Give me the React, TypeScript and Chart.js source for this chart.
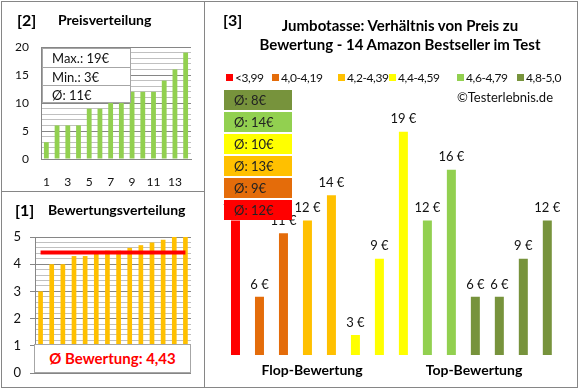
import React, { useEffect, useRef } from "react";
import { Chart, registerables } from "chart.js";

Chart.register(...registerables);

// ---------- data ----------
const rankLabels = ["1", "2", "3", "4", "5", "6", "7", "8", "9", "10", "11", "12", "13", "14"];
const sortedPrices = [3, 6, 6, 6, 9, 9, 10, 10, 12, 12, 12, 14, 16, 19];
const sortedRatings = [3.0, 4.0, 4.0, 4.3, 4.3, 4.4, 4.5, 4.5, 4.6, 4.7, 4.8, 4.9, 5.0, 5.0];
const avgRating = 4.43;
const priceStats = ["Max.: 19€", "Min.: 3€", "Ø: 11€"];

const productPrices = [12, 6, 11, 12, 14, 3, 9, 19, 12, 16, 6, 6, 9, 12];
const productGroup = [0, 1, 1, 2, 2, 3, 3, 3, 4, 4, 5, 5, 5, 5];
const groupLabels = ["<3,99", "4,0-4,19", "4,2-4,39", "4,4-4,59", "4,6-4,79", "4,8-5,0"];
const groupColors = ["#FF0000", "#E46C0A", "#FFC000", "#FFFF00", "#92D050", "#77933C"];
const groupAvgPrices = [12, 9, 13, 10, 14, 8];
const sectionLabels = ["Flop-Bewertung", "Top-Bewertung"];

// ---------- layout ----------
const FONT = "Lato, 'Open Sans', sans-serif";
const GRID_MAJOR = "#868686";
const GRID_MINOR = "#C0C0C0";
const TXT = "#111";
const legendLeft = [226, 272, 338, 389, 457, 517];
const boxTops = [90, 112, 134, 156, 178, 200];

const isInt = (v: number) => Math.abs(v - Math.round(v)) < 1e-6;

export default function App() {
  const c1 = useRef<HTMLCanvasElement>(null);
  const c2 = useRef<HTMLCanvasElement>(null);
  const c3 = useRef<HTMLCanvasElement>(null);

  useEffect(() => {
    const charts: Chart[] = [];

    // [2] Preisverteilung
    charts.push(
      new Chart(c1.current!, {
        type: "bar",
        data: {
          labels: rankLabels,
          datasets: [
            {
              data: sortedPrices,
              backgroundColor: "#92D050",
              barPercentage: 0.45,
              categoryPercentage: 1,
            },
          ],
        },
        options: {
          responsive: false,
          animation: false,
          devicePixelRatio: 1,
          layout: { padding: { left: 11, top: 47, right: 389, bottom: 201 } },
          plugins: { legend: { display: false }, tooltip: { enabled: false } },
          scales: {
            x: {
              grid: { display: false, drawTicks: false },
              border: { color: GRID_MAJOR },
              ticks: {
                padding: 16,
                autoSkip: false,
                maxRotation: 0,
                color: TXT,
                font: { family: FONT, size: 12 },
                callback: (_v: any, i: number) => (i % 2 === 0 ? rankLabels[i] : ""),
              },
              afterFit: (s: any) => {
                s.height = 30;
              },
            },
            y: {
              min: 0,
              max: 20,
              grid: {
                drawTicks: false,
                color: (ctx: any) => (ctx.tick && ctx.tick.value % 5 === 0 ? GRID_MAJOR : GRID_MINOR),
              },
              border: { color: GRID_MAJOR },
              ticks: {
                stepSize: 1,
                autoSkip: false,
                padding: 12,
                color: TXT,
                font: { family: FONT, size: 12 },
                callback: (v: any) => (Number(v) % 5 === 0 ? String(v) : ""),
              },
              afterFit: (s: any) => {
                s.width = 30;
              },
            },
          },
        },
      } as any)
    );

    // [1] Bewertungsverteilung
    charts.push(
      new Chart(c2.current!, {
        type: "bar",
        data: {
          labels: rankLabels,
          datasets: [
            {
              type: "line",
              data: sortedRatings.map(() => avgRating),
              borderColor: "#FF0000",
              borderWidth: 4,
              pointRadius: 0,
              borderCapStyle: "butt",
              order: 0,
            },
            {
              type: "bar",
              data: sortedRatings,
              backgroundColor: "#FFC000",
              barPercentage: 0.42,
              categoryPercentage: 1,
              order: 1,
            },
          ],
        },
        options: {
          responsive: false,
          animation: false,
          devicePixelRatio: 1,
          layout: { padding: { left: 5, top: 237, right: 389, bottom: 17 } },
          plugins: { legend: { display: false }, tooltip: { enabled: false } },
          scales: {
            x: { display: false },
            y: {
              min: 0,
              max: 5,
              grid: {
                tickLength: 5,
                color: (ctx: any) => (ctx.tick && isInt(ctx.tick.value) ? GRID_MAJOR : GRID_MINOR),
                tickColor: (ctx: any) => (ctx.tick && isInt(ctx.tick.value) ? GRID_MAJOR : "rgba(0,0,0,0)"),
              },
              border: { color: GRID_MAJOR },
              ticks: {
                stepSize: 0.2,
                autoSkip: false,
                padding: 9,
                color: TXT,
                font: { family: FONT, size: 13 },
                callback: (v: any) => (isInt(Number(v)) ? String(Math.round(Number(v))) : ""),
              },
              afterFit: (s: any) => {
                s.width = 30;
              },
            },
          },
        },
      } as any)
    );

    // [3] Preis zu Bewertung
    const valueLabels = {
      id: "valueLabels",
      afterDatasetsDraw(chart: any) {
        const ctx = chart.ctx;
        const meta = chart.getDatasetMeta(0);
        ctx.save();
        ctx.font = `13px ${FONT}`;
        ctx.fillStyle = TXT;
        ctx.textAlign = "center";
        ctx.textBaseline = "bottom";
        meta.data.forEach((el: any, i: number) => {
          ctx.fillText(`${productPrices[i]} €`, el.x, el.y - 6);
        });
        ctx.restore();
      },
    };

    charts.push(
      new Chart(c3.current!, {
        type: "bar",
        data: {
          labels: rankLabels,
          datasets: [
            {
              data: productPrices,
              backgroundColor: productGroup.map((g) => groupColors[g]),
              barPercentage: 0.375,
              categoryPercentage: 1,
            },
          ],
        },
        options: {
          responsive: false,
          animation: false,
          devicePixelRatio: 1,
          layout: { padding: { left: 223.5, top: 119, right: 20.7, bottom: 35 } },
          plugins: { legend: { display: false }, tooltip: { enabled: false } },
          scales: {
            x: { display: false },
            y: { display: false, min: 1.42, max: 20 },
          },
        },
        plugins: [valueLabels],
      } as any)
    );

    return () => charts.forEach((c) => c.destroy());
  }, []);

  const abs = (o: React.CSSProperties): React.CSSProperties => ({ position: "absolute", ...o });
  const avgBoxOrder = [5, 4, 3, 2, 1, 0];

  return (
    <div
      style={{
        position: "absolute",
        left: 0,
        top: 0,
        width: 580,
        height: 390,
        background: "#fff",
        fontFamily: FONT,
        color: "#000",
        overflow: "hidden",
      }}
    >
      {/* frames */}
      <div style={abs({ left: 1, top: 1, width: 577, height: 387, border: "1px solid #868686", boxSizing: "border-box" })} />
      <div style={abs({ left: 204, top: 1, width: 1, height: 387, background: "#868686" })} />
      <div style={abs({ left: 1, top: 191, width: 204, height: 1, background: "#868686" })} />

      <canvas ref={c1} width={580} height={390} style={abs({ left: 0, top: 0 })} />
      <canvas ref={c2} width={580} height={390} style={abs({ left: 0, top: 0 })} />
      <canvas ref={c3} width={580} height={390} style={abs({ left: 0, top: 0 })} />

      {/* panel 2 titles */}
      <div style={abs({ left: 17, top: 9, lineHeight: "22px", fontSize: 16, fontWeight: 700 })}>[2]</div>
      <div style={abs({ left: 58, top: 10, lineHeight: "20px", fontSize: 14, fontWeight: 700 })}>Preisverteilung</div>
      <div
        style={abs({
          left: 42,
          top: 48,
          width: 89,
          height: 55,
          background: "#fff",
          border: "1px solid #A6A6A6",
          boxSizing: "border-box",
        })}
      >
        {priceStats.map((s, i) => (
          <div
            key={s}
            style={{
              height: i < 2 ? 18 : 17,
              lineHeight: "18px",
              fontSize: 13,
              paddingLeft: 9,
              borderTop: i > 0 ? "1px solid #A6A6A6" : "none",
              boxSizing: "border-box",
              color: TXT,
            }}
          >
            {s}
          </div>
        ))}
      </div>

      {/* panel 1 titles */}
      <div style={abs({ left: 15, top: 199, lineHeight: "22px", fontSize: 16, fontWeight: 700 })}>[1]</div>
      <div style={abs({ left: 48, top: 200, lineHeight: "20px", fontSize: 14, fontWeight: 700 })}>Bewertungsverteilung</div>
      <div
        style={abs({
          left: 34,
          top: 344,
          width: 157,
          height: 29,
          background: "#fff",
          border: "1px solid #A6A6A6",
          boxSizing: "border-box",
          textAlign: "center",
          lineHeight: "27px",
          fontSize: 15,
          fontWeight: 700,
          color: "#FF0000",
        })}
      >
        {`Ø Bewertung: ${avgRating.toFixed(2).replace(".", ",")}`}
      </div>

      {/* panel 3 titles */}
      <div style={abs({ left: 223, top: 9, lineHeight: "22px", fontSize: 16, fontWeight: 700 })}>[3]</div>
      <div
        style={abs({
          left: 250,
          top: 16,
          width: 300,
          textAlign: "center",
          lineHeight: "19px",
          fontSize: 15,
          fontWeight: 700,
        })}
      >
        Jumbotasse: Verhältnis von Preis zu
        <br />
        Bewertung - 14 Amazon Bestseller im Test
      </div>

      {groupLabels.map((l, i) => (
        <div
          key={l}
          style={abs({
            left: legendLeft[i],
            top: 68,
            height: 18,
            display: "flex",
            alignItems: "center",
            fontSize: 12,
            letterSpacing: "-0.4px",
            color: TXT,
            whiteSpace: "nowrap",
          })}
        >
          <div style={{ width: 7, height: 7, background: groupColors[i], marginRight: 2 }} />
          <span>{l}</span>
        </div>
      ))}
      <div style={abs({ right: 27, top: 88, lineHeight: "18px", fontSize: 13, color: TXT })}>©Testerlebnis.de</div>

      {avgBoxOrder.map((g, k) => (
        <div
          key={g}
          style={abs({
            left: 224,
            top: boxTops[k],
            width: 68,
            height: 20,
            background: groupColors[g],
            fontSize: 13,
            lineHeight: "20px",
            paddingLeft: 10,
            boxSizing: "border-box",
            color: "#222",
          })}
        >
          {`Ø: ${groupAvgPrices[g]}€`}
        </div>
      ))}

      <div style={abs({ left: 232, top: 360, width: 160, textAlign: "center", lineHeight: "20px", fontSize: 14, fontWeight: 700 })}>
        {sectionLabels[0]}
      </div>
      <div style={abs({ left: 394, top: 360, width: 160, textAlign: "center", lineHeight: "20px", fontSize: 14, fontWeight: 700 })}>
        {sectionLabels[1]}
      </div>
    </div>
  );
}
